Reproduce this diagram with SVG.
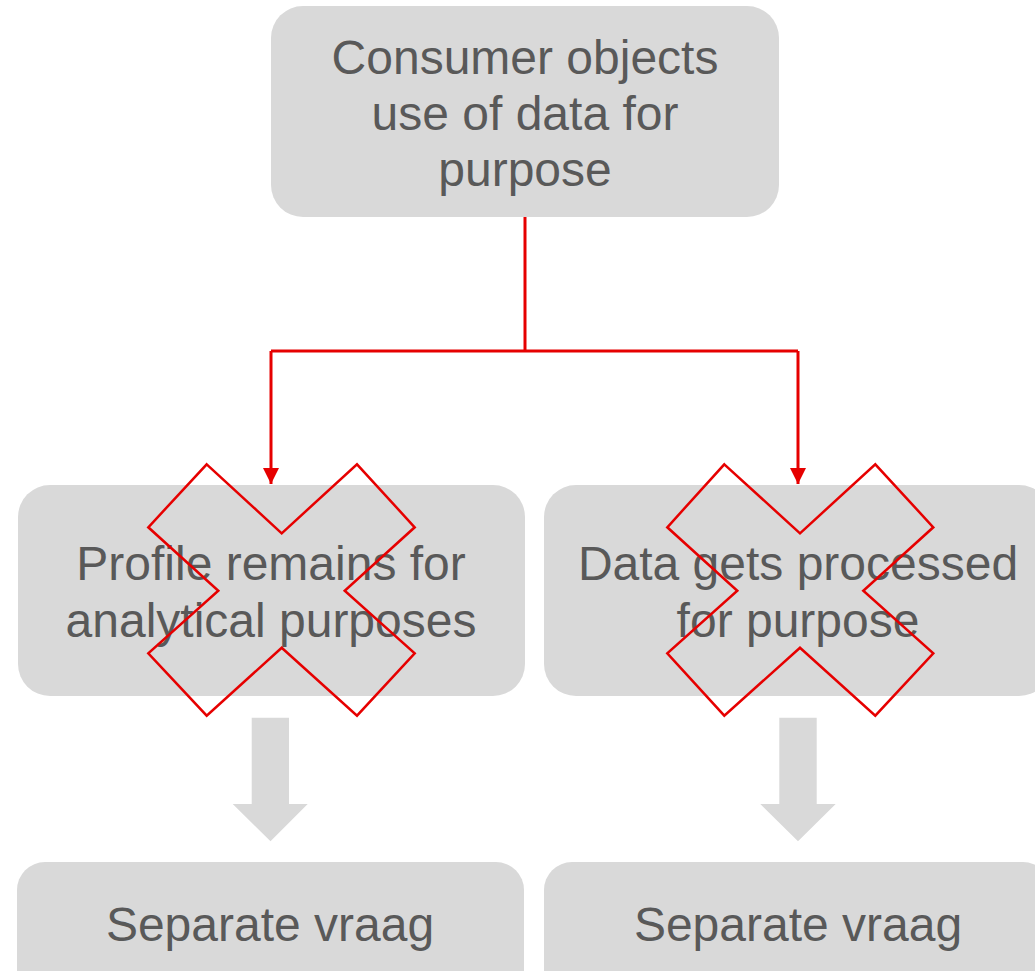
<svg xmlns="http://www.w3.org/2000/svg" width="1035" height="971" viewBox="0 0 1035 971">
<style>
.box{fill:#D9D9D9}
.lbl{font-family:"Liberation Sans",Arial,sans-serif;font-size:48px;fill:#595959;text-anchor:middle}
.conn{fill:none;stroke:#E60000;stroke-width:3}
.cross{fill:none;stroke:#E60000;stroke-width:2.5;stroke-linejoin:miter}
.blk{fill:#D9D9D9}
</style>
<defs>
<marker id="ah" markerUnits="userSpaceOnUse" markerWidth="17" markerHeight="17" refX="16" refY="8" orient="auto">
<path d="M0,0 L16,8 L0,16 z" fill="#E60000"/>
</marker>
</defs>
<rect width="1035" height="971" fill="#FFFFFF"/>
<g id="node-top">
<rect class="box" x="271" y="6" width="508" height="211" rx="32"/>
<text class="lbl" x="525" y="74">Consumer objects</text>
<text class="lbl" x="525" y="130">use of data for</text>
<text class="lbl" x="525" y="186">purpose</text>
</g>
<g id="node-profile">
<rect class="box" x="18" y="485" width="507" height="211" rx="32"/>
<text class="lbl" x="271" y="580">Profile remains for</text>
<text class="lbl" x="271" y="637">analytical purposes</text>
</g>
<g id="node-processed">
<rect class="box" x="544" y="485" width="507" height="211" rx="32"/>
<text class="lbl" x="798" y="580">Data gets processed</text>
<text class="lbl" x="798" y="637">for purpose</text>
</g>
<g id="node-vraag-left">
<rect class="box" x="17" y="862" width="507" height="160" rx="28"/>
<text class="lbl" x="270" y="941">Separate vraag</text>
</g>
<g id="node-vraag-right">
<rect class="box" x="544" y="862" width="507" height="160" rx="28"/>
<text class="lbl" x="798" y="941">Separate vraag</text>
</g>
<g id="connectors">
<path class="conn" d="M525,217 V351"/>
<path class="conn" d="M271,351 H798"/>
<path class="conn" d="M271,351 V484" marker-end="url(#ah)"/>
<path class="conn" d="M798,351 V484" marker-end="url(#ah)"/>
<polygon class="blk" points="251.7,717.7 289,717.7 289,804 307.7,804 270.5,841.3 232.7,804 251.7,804"/>
<polygon class="blk" points="779.3,717.7 816.7,717.7 816.7,804 835.7,804 798,841.3 760.3,804 779.3,804"/>
</g>
<g id="crosses">
<polygon class="cross" points="206.7,464.3 281.7,533.3 357,464.3 414.7,527.3 344.7,590.7 414.7,653.3 357,715.7 281.7,647.7 206.7,715.7 148.3,653.3 218.3,590.7 148.3,527.3"/>
<polygon class="cross" points="724.3,464.3 800,533.3 875.3,464.3 933.3,527.3 863.3,590.7 933.3,653.3 875.3,715.7 800,647.7 724.3,715.7 667.3,653.3 737.3,590.7 667.3,527.3"/>
</g>
</svg>
